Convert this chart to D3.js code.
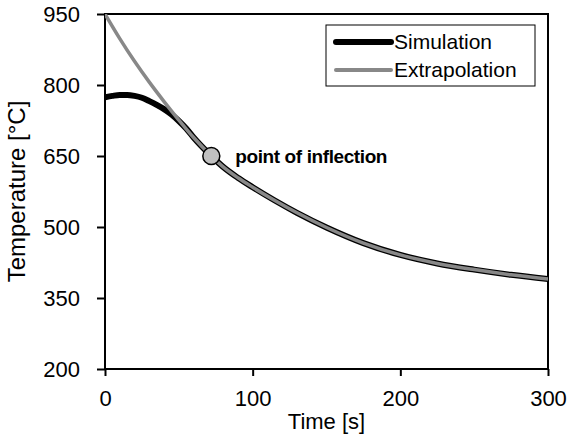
<!DOCTYPE html>
<html>
<head>
<meta charset="utf-8">
<script src="https://cdn.jsdelivr.net/npm/d3@7.9.0/dist/d3.min.js"></script>
<style>
  body { margin: 0; background: #fff; }
  svg text { font-family: "Liberation Sans", Arial, sans-serif; fill: #000; }
</style>
</head>
<body>
<svg id="chart" width="570" height="446"></svg>
<script>
// time axis ticks and temperature ticks
const xTicks = [0, 100, 200, 300];
const yTicks = [200, 350, 500, 650, 800, 950];

// extrapolated curve
const extraTime = [0, 10, 20, 30, 40, 50, 60, 72, 80, 90, 100, 115, 130, 150, 175, 200, 225, 250, 275, 300];
const extraTemp = [950, 898, 850, 806, 765, 726, 689, 650, 627, 604, 584, 556, 530, 499, 466, 441, 423, 410, 399, 390];

// simulated curve, first part stays below the extrapolation then follows it
const simTime = [0, 5, 10, 15, 20, 25, 30, 35, 40, 45, 50, 55, 60, 72, 80, 90, 100, 115, 130, 150, 175, 200, 225, 250, 275, 300];
const simTemp = [774, 777, 779, 779, 777, 773, 766, 758, 749, 738, 724, 708, 689, 650, 627, 604, 584, 556, 530, 499, 466, 441, 423, 410, 399, 390];

// point of inflection
const inflection = { t: 72, temp: 650, label: "point of inflection" };

const svg = d3.select('#chart');
const margin = { top: 14, right: 22, bottom: 77, left: 105 };
const width = 570 - margin.left - margin.right;
const height = 446 - margin.top - margin.bottom;

const x = d3.scaleLinear().domain([0, 300]).range([0, width]);
const y = d3.scaleLinear().domain([200, 950]).range([height, 0]);

const g = svg.append('g').attr('transform', `translate(${margin.left},${margin.top})`);

g.append('clipPath').attr('id', 'plotclip')
  .append('rect').attr('width', width).attr('height', height);

// axes
const xAxis = g.append('g')
  .attr('transform', `translate(0,${height})`)
  .call(d3.axisBottom(x).tickValues(xTicks).tickSize(7).tickPadding(14));
const yAxis = g.append('g')
  .call(d3.axisLeft(y).tickValues(yTicks).tickSize(8).tickPadding(17));

[xAxis, yAxis].forEach(a => {
  a.select('.domain').remove();
  a.selectAll('line').attr('stroke', '#000').attr('stroke-width', 2);
  a.selectAll('text').style('font-size', '22px');
});

// frame
g.append('rect')
  .attr('width', width).attr('height', height)
  .attr('fill', 'none').attr('stroke', '#000').attr('stroke-width', 2);

const line = d3.line().x(d => x(d[0])).y(d => y(d[1])).curve(d3.curveMonotoneX);

const simData = simTime.map((t, i) => [t, simTemp[i]]);
const extraData = extraTime.map((t, i) => [t, extraTemp[i]]);

const plot = g.append('g').attr('clip-path', 'url(#plotclip)');
plot.append('path').datum(simData)
  .attr('d', line).attr('fill', 'none')
  .attr('stroke', '#000').attr('stroke-width', 6);
plot.append('path').datum(extraData)
  .attr('d', line).attr('fill', 'none')
  .attr('stroke', '#888').attr('stroke-width', 3.5);

// inflection marker
g.append('circle')
  .attr('cx', x(inflection.t)).attr('cy', y(inflection.temp)).attr('r', 8.5)
  .attr('fill', '#c0c0c0').attr('stroke', '#000').attr('stroke-width', 1.5);
g.append('text')
  .attr('x', x(inflection.t) + 24).attr('y', y(inflection.temp) + 7)
  .style('font-size', '19px').style('font-weight', 'bold')
  .style('letter-spacing', '-0.4px')
  .text(inflection.label);

// axis titles
svg.append('text')
  .attr('x', margin.left + width / 2).attr('y', 429)
  .attr('text-anchor', 'middle').style('font-size', '22px')
  .text('Time [s]');
svg.append('text')
  .attr('transform', `translate(25,${margin.top + height / 2}) rotate(-90)`)
  .attr('text-anchor', 'middle').style('font-size', '24px')
  .text('Temperature [°C]');

// legend
const legend = svg.append('g');
legend.append('rect')
  .attr('x', 326).attr('y', 25).attr('width', 209).attr('height', 61)
  .attr('fill', '#fff').attr('stroke', '#000').attr('stroke-width', 1);
const items = [
  { name: 'Simulation', color: '#000', w: 6 },
  { name: 'Extrapolation', color: '#888', w: 4 }
];
items.forEach((d, i) => {
  const yy = 42 + i * 28;
  legend.append('line')
    .attr('x1', 336).attr('x2', 391).attr('y1', yy).attr('y2', yy)
    .attr('stroke', d.color).attr('stroke-width', d.w).attr('stroke-linecap', 'round');
  legend.append('text')
    .attr('x', 394).attr('y', yy + 7)
    .style('font-size', '21px')
    .text(d.name);
});
</script>
</body>
</html>
